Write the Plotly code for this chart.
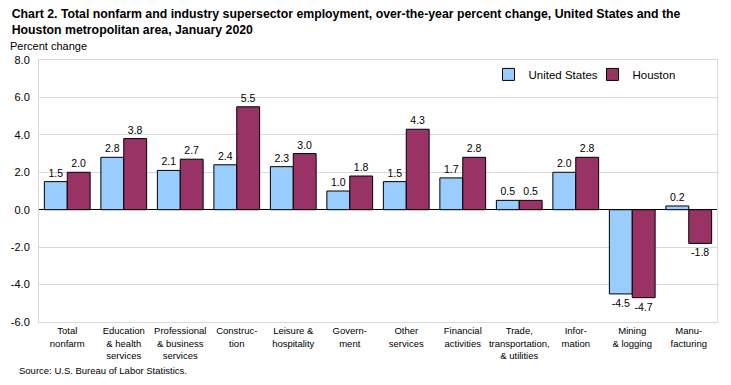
import plotly.graph_objects as go

categories = ["Total<br>nonfarm", "Education<br>& health<br>services", "Professional<br>& business<br>services",
              "Construc-<br>tion", "Leisure &<br>hospitality", "Govern-<br>ment", "Other<br>services",
              "Financial<br>activities", "Trade,<br>transportation,<br>& utilities", "Infor-<br>mation",
              "Mining<br>& logging", "Manu-<br>facturing"]
us_values = [1.5, 2.8, 2.1, 2.4, 2.3, 1.0, 1.5, 1.7, 0.5, 2.0, -4.5, 0.2]
houston_values = [2.0, 3.8, 2.7, 5.5, 3.0, 1.8, 4.3, 2.8, 0.5, 2.8, -4.7, -1.8]
tick_vals = [8, 6, 4, 2, 0, -2, -4, -6]
tick_text = ["8.0", "6.0", "4.0", "2.0", "0.0", "-2.0", "-4.0", "-6.0"]

def fmt(v):
    return f"{v:.1f}"

fig = go.Figure()
fig.add_trace(go.Bar(x=categories, y=us_values, name="United States",
                     marker=dict(color="#99CCFF", line=dict(color="black", width=1)),
                     text=[fmt(v) for v in us_values], textposition="outside",
                     textfont=dict(color="black", size=10.5), cliponaxis=False))
fig.add_trace(go.Bar(x=categories, y=houston_values, name="Houston",
                     marker=dict(color="#993366", line=dict(color="black", width=1)),
                     text=[fmt(v) for v in houston_values], textposition="outside",
                     textfont=dict(color="black", size=10.5), cliponaxis=False))

fig.update_layout(
    width=731, height=385,
    margin=dict(l=39, r=14, t=60, b=63, autoexpand=False),
    paper_bgcolor="white", plot_bgcolor="white",
    font=dict(family="Liberation Sans, Arial, sans-serif", size=10, color="black"),
    barmode="group", bargap=0.19, bargroupgap=0,
    title=dict(text="<b>Chart 2. Total nonfarm and industry supersector employment, over-the-year percent change, United States and the<br>Houston metropolitan area, January 2020</b>",
               x=0.016, xanchor="left", xref="container", y=0.954, yanchor="top", yref="container",
               font=dict(family="Liberation Sans Narrow, Arial Narrow, Liberation Sans, sans-serif", size=12.3, color="black")),
    legend=dict(orientation="h", x=0.663, y=0.945, xanchor="left", yanchor="middle",
                font=dict(size=11.5), bgcolor="rgba(0,0,0,0)", traceorder="normal",
                itemwidth=30, entrywidth=59),
    showlegend=True,
)
fig.update_xaxes(showgrid=False, tickfont=dict(size=9.5), ticks="", showline=True, linecolor="#D9D9D9",
                 mirror=True, tickangle=0, automargin=False)
fig.update_yaxes(range=[-6, 8], tickvals=tick_vals, ticktext=tick_text, showgrid=True, gridcolor="#D9D9D9",
                 zeroline=True, zerolinecolor="black", zerolinewidth=1, showline=True, linecolor="#D9D9D9",
                 mirror=True, tickfont=dict(size=11), ticks="", automargin=False, ticklabelstandoff=6)
fig.add_annotation(text="Percent change", xref="paper", yref="paper", x=-0.045, y=1.053,
                   xanchor="left", yanchor="middle", showarrow=False, font=dict(size=11))
fig.add_annotation(text="Source: U.S. Bureau of Labor Statistics.", xref="paper", yref="paper",
                   x=-0.033, y=-0.185, xanchor="left", yanchor="middle", showarrow=False, font=dict(size=9.5))
fig.write_html("out.html", config={"displayModeBar": False},
               post_script="document.body.style.margin='0';")
